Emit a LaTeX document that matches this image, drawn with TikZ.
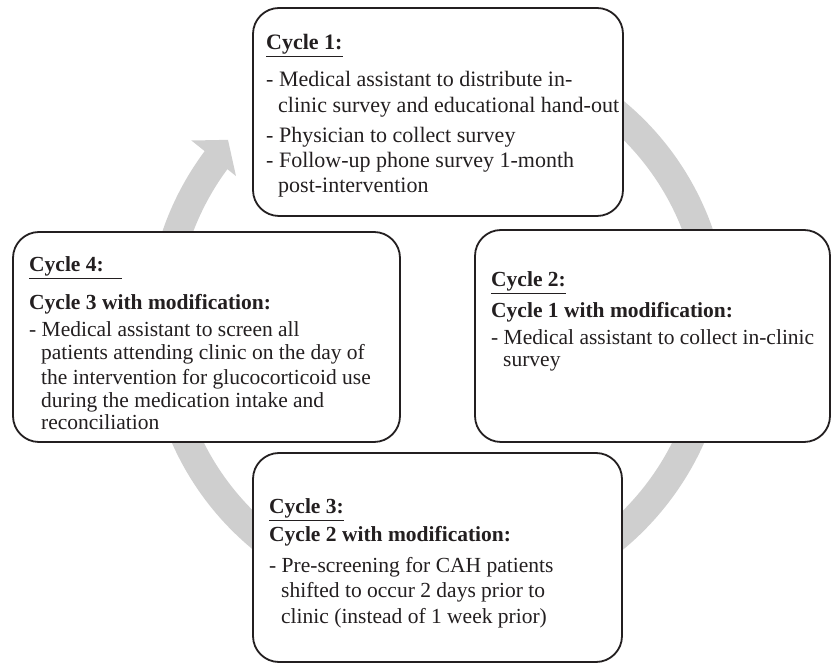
\documentclass[tikz,border=0pt]{standalone}
\usepackage{fontspec}
\setmainfont{Liberation Serif}
\definecolor{ink}{RGB}{35,31,32}
\definecolor{ringfill}{RGB}{207,207,207}
\begin{document}
\begin{tikzpicture}[x=1pt,y=1pt,
  cyclebox/.style={draw=ink, line width=1.8pt, rounded corners=26pt, fill=white, inner sep=0pt},
  ln/.style={anchor=base west, inner sep=0pt, text=ink, font=\fontsize{21.5}{25}\selectfont},
  hd/.style={anchor=base west, inner sep=0pt, text=ink, font=\fontsize{21.5}{25}\selectfont\bfseries},
  lnb/.style={ln, font=\fontsize{22}{25}\selectfont},
  hdb/.style={hd, font=\fontsize{22}{25}\selectfont\bfseries}]
\useasboundingbox (0,0) rectangle (833,664);
% ring with arrow
\coordinate (c) at (438,339);
\fill[ringfill] ([shift={(142.8:291pt)}]c) arc[start angle=142.8, end angle=460, radius=291pt]
   -- ([shift={(460:262pt)}]c) arc[start angle=460, end angle=142.8, radius=262pt] -- cycle;
\fill[ringfill] ([shift={(143.2:308pt)}]c) -- ([shift={(138.6:280pt)}]c) -- ([shift={(143.6:251pt)}]c) -- cycle;
% boxes
\node[cyclebox, minimum width=370pt, minimum height=208pt] (b1) at (438,552) {};
\node[cyclebox, minimum width=387pt, minimum height=210pt] (b4) at (206.5,327) {};
\node[cyclebox, minimum width=355pt, minimum height=212pt] (b2) at (652.5,328) {};
\node[cyclebox, minimum width=369pt, minimum height=209pt] (b3) at (437.5,106.5) {};
% box 1 text
\node[hdb] (t1a) at (266,614) {\underline{Cycle 1:}};
\node[lnb] (t1b) at (266,577) {- Medical assistant to distribute in-};
\node[lnb] (t1c) at (278,551) {clinic survey and educational hand-out};
\node[lnb] (t1d) at (266,521) {- Physician to collect survey};
\node[lnb] (t1e) at (266,496) {- Follow-up phone survey 1-month};
\node[lnb] (t1f) at (278,471) {post-intervention};
% box 4 text
\node[hd] (t4a) at (29,392) {\underline{Cycle 4:\hspace*{18pt}}};
\node[hd] (t4b) at (29,354) {Cycle 3 with modification:};
\node[ln] (t4c) at (29,327) {- Medical assistant to screen all};
\node[ln] (t4d) at (41,304) {patients attending clinic on the day of};
\node[ln] (t4e) at (41,279) {the intervention for glucocorticoid use};
\node[ln] (t4f) at (41,256) {during the medication intake and};
\node[ln] (t4g) at (41,234) {reconciliation};
% box 2 text
\node[hd] (t2a) at (491,377) {\underline{Cycle 2:}};
\node[hd] (t2b) at (491,346) {Cycle 1 with modification:};
\node[ln] (t2c) at (491,319) {- Medical assistant to collect in-clinic};
\node[ln] (t2d) at (503,297) {survey};
% box 3 text
\node[hd] (t3a) at (269,150) {\underline{Cycle 3:}};
\node[hd] (t3b) at (269,122) {Cycle 2 with modification:};
\node[ln] (t3c) at (269,91) {- Pre-screening for CAH patients};
\node[ln] (t3d) at (281,66) {shifted to occur 2 days prior to};
\node[ln] (t3e) at (281,40) {clinic (instead of 1 week prior)};
\end{tikzpicture}
\end{document}
